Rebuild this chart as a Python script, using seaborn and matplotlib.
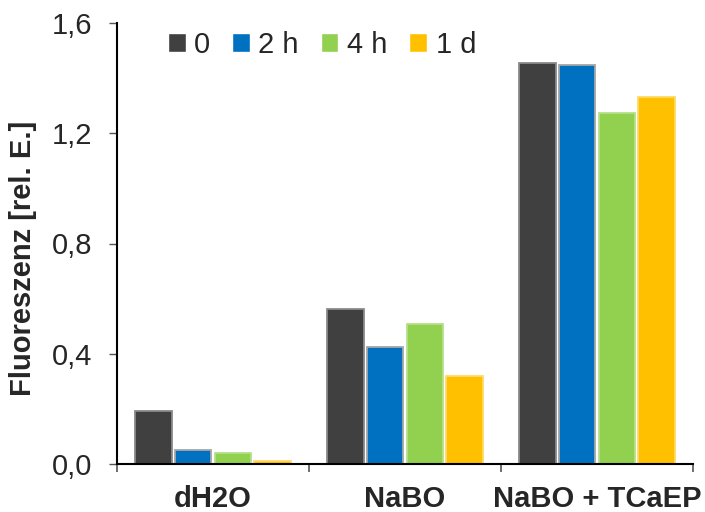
import matplotlib
matplotlib.use("Agg")
import matplotlib.pyplot as plt
import seaborn as sns
import pandas as pd
from matplotlib.ticker import FixedLocator

categories = ["dH2O", "NaBO", "NaBO + TCaEP"]
series = ["0", "2 h", "4 h", "1 d"]
values_0 = [0.192, 0.562, 1.455]
values_2h = [0.051, 0.425, 1.448]
values_4h = [0.040, 0.508, 1.274]
values_1d = [0.011, 0.319, 1.332]
colors = ["#404040", "#0070C0", "#92D050", "#FFC000"]
edge_colors = ["#8a8a8a", "#a6a6a6", "#b5e08a", "#ffd966"]

rows = []
for s, vals in zip(series, [values_0, values_2h, values_4h, values_1d]):
    for c, v in zip(categories, vals):
        rows.append({"Kategorie": c, "Zeit": s, "Wert": v})
df = pd.DataFrame(rows)

sns.set_theme(style="white")
plt.rcParams["font.family"] = ["Liberation Sans", "DejaVu Sans"]

FS = 21
fig = plt.figure(figsize=(7.05, 5.12), dpi=100)
ax = fig.add_axes([117/705, 1-464/512, (693-117)/705, (464-23)/512])

sns.barplot(data=df, x="Kategorie", y="Wert", hue="Zeit", order=categories,
            hue_order=series, palette=colors, width=0.83, gap=0.08,
            saturation=1, ax=ax, legend=True)

for cont, ec in zip(ax.containers, edge_colors):
    for p in cont:
        p.set_edgecolor(ec)
        p.set_linewidth(1.3)

ax.set_xlim(-0.5, 2.5)
ax.set_ylim(0, 1.6)
ax.set_yticks([0, 0.4, 0.8, 1.2, 1.6])
ax.set_yticklabels(["0,0", "0,4", "0,8", "1,2", "1,6"], fontsize=FS)
ax.set_xticks([0, 1, 2])
ax.set_xticklabels(categories, fontsize=FS, fontweight="bold")
ax.xaxis.set_minor_locator(FixedLocator([-0.5, 0.5, 1.5, 2.5]))
ax.tick_params(axis="x", which="major", length=0, pad=15)
ax.tick_params(axis="x", which="minor", length=6, width=1.2, color="#555555", direction="out", bottom=True)
ax.tick_params(axis="y", which="major", length=6, width=1.0, color="#555555", direction="out", left=True, pad=12)

ax.set_xlabel("")
ax.set_ylabel("Fluoreszenz [rel. E.]", fontsize=FS, fontweight="bold")
ax.yaxis.set_label_coords((37-117)/576, (464-258)/441)

for side in ["top", "right"]:
    ax.spines[side].set_visible(False)
for side in ["left", "bottom"]:
    ax.spines[side].set_color("black")
    ax.spines[side].set_linewidth(1.5)

leg = ax.legend(loc="center left", bbox_to_anchor=((168-117)/576, (464-45)/441), ncol=4,
                frameon=False, fontsize=FS, handlelength=0.6, handleheight=0.6,
                handletextpad=0.3, columnspacing=0.75, borderaxespad=0, borderpad=0)

fig.savefig("out.png", dpi=100)
